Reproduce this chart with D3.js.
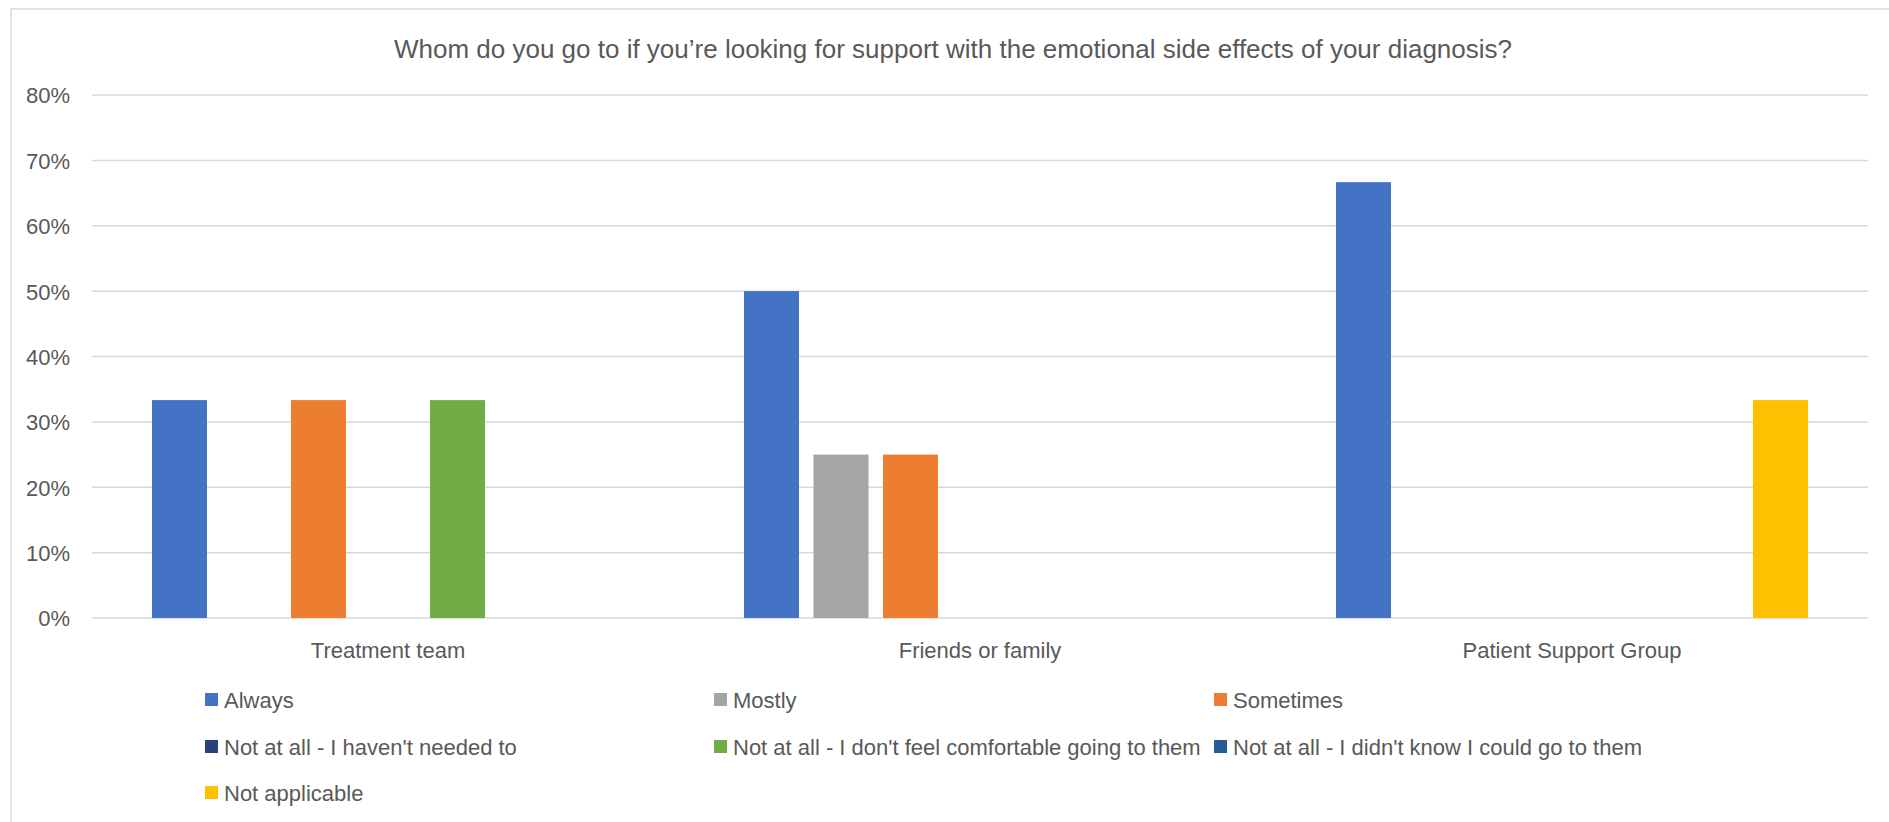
<!DOCTYPE html>
<html>
<head>
<meta charset="utf-8">
<script src="https://cdn.jsdelivr.net/npm/d3@7"></script>
<style>
  html, body { margin: 0; padding: 0; background: #fff; }
  svg text { font-family: "Liberation Sans", Arial, sans-serif; fill: #595959; }
</style>
</head>
<body>
<div id="chart"></div>
<script>
// data
const title = "Whom do you go to if you\u2019re looking for support with the emotional side effects of your diagnosis?";
const categories = ["Treatment team", "Friends or family", "Patient Support Group"];
const seriesNames = [
    "Always",
    "Mostly",
    "Sometimes",
    "Not at all - I haven't needed to",
    "Not at all - I don't feel comfortable going to them",
    "Not at all - I didn't know I could go to them",
    "Not applicable"
];
const seriesColors = ["#4472C4", "#A5A5A5", "#ED7D31", "#264478", "#70AD47", "#255E91", "#FFC000"];
const always        = [0.3333, 0.50, 0.6667];
const mostly        = [0, 0.25, 0];
const sometimes     = [0.3333, 0.25, 0];
const notNeeded     = [0, 0, 0];
const notComfortable = [0.3333, 0, 0];
const notKnown      = [0, 0, 0];
const notApplicable = [0, 0, 0.3333];
const yTicks = [0, 0.1, 0.2, 0.3, 0.4, 0.5, 0.6, 0.7, 0.8];

const seriesValues = [always, mostly, sometimes, notNeeded, notComfortable, notKnown, notApplicable];

function init(){

    const width = 1889;
    const height = 822;

    const plot = {left: 92, right: 1868, top: 95, bottom: 618};

    const svg = d3.select("#chart")
                .append("svg")
                .attr("width", width)
                .attr("height", height);

    //chart frame (only left + top edges show in the picture)
    svg.append("path")
        .attr("d", `M11,${height} L11,9 L${width},9`)
        .attr("fill", "none")
        .attr("stroke", "#d9d9d9")
        .attr("stroke-width", 1.5);

    svg.append("text")
        .attr("x", 953)
        .attr("y", 58)
        .attr("text-anchor", "middle")
        .attr("font-size", "26px")
        .attr("textLength", 1118)
        .attr("lengthAdjust", "spacingAndGlyphs")
        .text(title);

    const y = d3.scaleLinear()
                .domain([0, 0.8])
                .range([plot.bottom, plot.top]);

    const x0 = d3.scaleBand()
                .domain(categories)
                .range([plot.left, plot.right])
                .padding(0);

    const x1 = d3.scaleBand()
                .domain(seriesNames)
                .range([0, x0.bandwidth()])
                .paddingInner(0.2086)
                .paddingOuter(0.863);

    //gridlines
    svg.append("g")
        .selectAll("line")
        .data(yTicks)
        .enter().append("line")
        .attr("x1", plot.left)
        .attr("x2", plot.right)
        .attr("y1", d => y(d))
        .attr("y2", d => y(d))
        .attr("stroke", "#d9d9d9")
        .attr("stroke-width", 1.5);

    //y axis labels
    const yAxis = d3.axisLeft(y)
                    .tickValues(yTicks)
                    .tickFormat(d3.format(".0%"))
                    .tickSize(0)
                    .tickPadding(22);

    const yg = svg.append("g")
                .attr("transform", `translate(${plot.left},0)`)
                .call(yAxis);
    yg.select(".domain").remove();
    yg.selectAll("text")
        .attr("font-size", "22px")
        .attr("font-family", null)
        .attr("fill", "#595959")
        .attr("dy", "0.36em");

    //bars
    const groups = svg.append("g")
                    .selectAll("g")
                    .data(categories)
                    .enter().append("g")
                    .attr("transform", d => `translate(${x0(d)},0)`);

    groups.selectAll("rect")
        .data((c, ci) => seriesNames.map((s, si) => ({series: s, value: seriesValues[si][ci], color: seriesColors[si]})))
        .enter().append("rect")
        .filter(d => d.value > 0)
        .attr("x", d => x1(d.series))
        .attr("y", d => y(d.value))
        .attr("width", x1.bandwidth())
        .attr("height", d => y(0) - y(d.value))
        .attr("fill", d => d.color);

    //category labels
    const xAxis = d3.axisBottom(x0)
                    .tickSize(0)
                    .tickPadding(24);

    const xg = svg.append("g")
                .attr("transform", `translate(0,${plot.bottom})`)
                .call(xAxis);
    xg.select(".domain").remove();
    xg.selectAll("text")
        .attr("font-size", "22px")
        .attr("font-family", null)
        .attr("fill", "#595959");

    //legend, 3 columns
    const legendCols = [205, 714, 1214];
    const legendRows = [700, 747, 793];

    const legend = svg.append("g")
                    .selectAll("g")
                    .data(seriesNames)
                    .enter().append("g")
                    .attr("transform", (d, i) => `translate(${legendCols[i % 3]},${legendRows[Math.floor(i / 3)]})`);

    legend.append("rect")
        .attr("x", 0)
        .attr("y", -7)
        .attr("width", 13)
        .attr("height", 13)
        .attr("fill", (d, i) => seriesColors[i]);

    legend.append("text")
        .attr("x", 19)
        .attr("y", 8)
        .attr("font-size", "22px")
        .text(d => d);

}
window.onload = init;
</script>
</body>
</html>
